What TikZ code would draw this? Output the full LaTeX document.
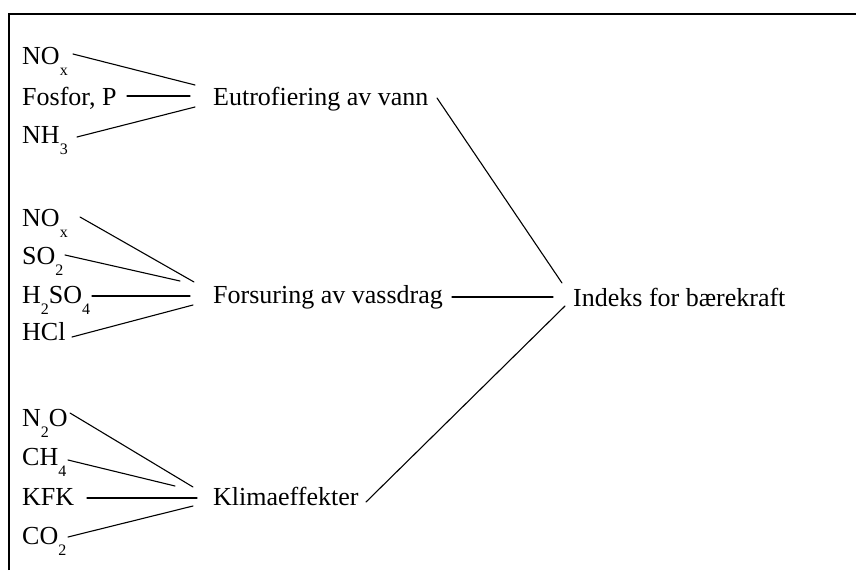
\documentclass[tikz,border=0pt]{standalone}
\usepackage{fontspec}
\setmainfont{Liberation Serif}
\usetikzlibrary{calc}
% lowered chemical subscript
\newcommand\chsub[1]{\raisebox{-11pt}{\fontsize{16}{16}\selectfont #1}}
\tikzset{
  lbl/.style={anchor=base west, inner sep=0pt, font=\fontsize{26}{30}\selectfont},
  link/.style={line width=1.1pt, line cap=round},
  frame/.style={line width=2.5pt}
}
\begin{document}
\begin{tikzpicture}[x=1pt, y=-1pt]
\useasboundingbox (0,0) rectangle (856,570);
\draw[frame] (9,570) -- (9,14) -- (856,14);

% eutrophication group
\node[lbl] (nox1) at (22,64) {NO\chsub{x}};
\node[lbl] (fos)  at (22,105) {Fosfor, P};
\node[lbl] (nh3)  at (22,143) {NH\chsub{3}};
\node[lbl] (eut)  at (213,105) {Eutrofiering av vann};

% acidification group
\node[lbl] (nox2) at (22,226) {NO\chsub{x}};
\node[lbl] (so2)  at (22,264) {SO\chsub{2}};
\node[lbl] (hso)  at (22,303) {H\chsub{2}SO\chsub{4}};
\node[lbl] (hcl)  at (22,340) {HCl};
\node[lbl] (fors) at (213,303) {Forsuring av vassdrag};

% climate group
\node[lbl] (n2o)  at (22,426) {N\chsub{2}O};
\node[lbl] (ch4)  at (22,465) {CH\chsub{4}};
\node[lbl] (kfk)  at (22,505) {KFK};
\node[lbl] (co2)  at (22,544) {CO\chsub{2}};
\node[lbl] (kli)  at (213,505) {Klimaeffekter};

% index
\node[lbl] (ind) at (573,306) {Indeks for bærekraft};

% connectors into eutrophication
\draw[link] ($(nox1.base west)+(51,-10)$) -- ($(eut.base west)+(-18,-20)$);
\draw[link] ($(fos.base west)+(105,-9)$) -- ($(eut.base west)+(-23,-9)$);
\draw[link] ($(nh3.base west)+(55,-6)$) -- ($(eut.base west)+(-18,2)$);

% connectors into acidification
\draw[link] ($(nox2.base west)+(58,-9)$) -- ($(fors.base west)+(-19,-21)$);
\draw[link] ($(so2.base west)+(43,-9)$) -- ($(fors.base west)+(-33,-22)$);
\draw[link] ($(hso.base west)+(70,-7)$) -- ($(fors.base west)+(-23,-7)$);
\draw[link] ($(hcl.base west)+(50,-3)$) -- ($(fors.base west)+(-20,2)$);

% connectors into climate
\draw[link] ($(n2o.base west)+(48,-13)$) -- ($(kli.base west)+(-20,-18)$);
\draw[link] ($(ch4.base west)+(46,-5)$) -- ($(kli.base west)+(-38,-19)$);
\draw[link] ($(kfk.base west)+(65,-7)$) -- ($(kli.base west)+(-16,-7)$);
\draw[link] ($(co2.base west)+(46,-7)$) -- ($(kli.base west)+(-20,1)$);

% connectors into the index
\draw[link] ($(eut.base west)+(224,-7)$) -- ($(ind.base west)+(-11,-23)$);
\draw[link] ($(fors.base west)+(239,-6)$) -- ($(ind.base west)+(-20,-9)$);
\draw[link] ($(kli.base west)+(153,-3)$) -- ($(ind.base west)+(-8,0)$);
\end{tikzpicture}
\end{document}
